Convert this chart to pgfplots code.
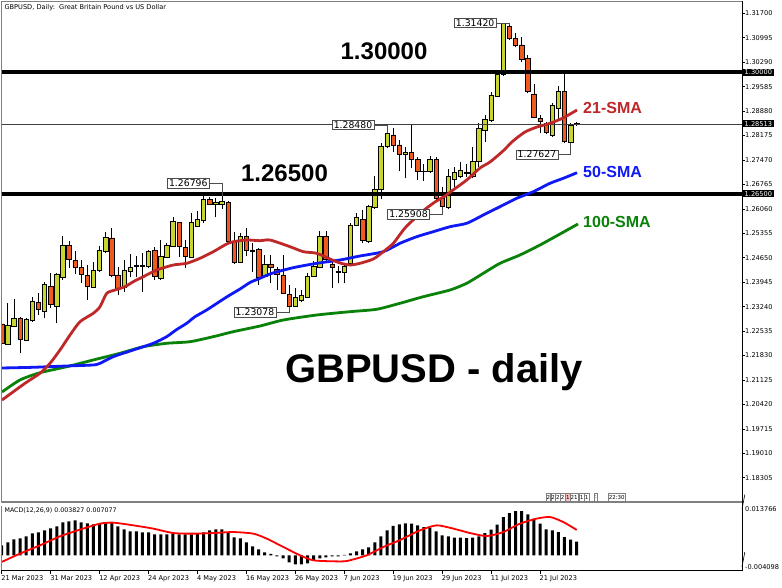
\documentclass[border=0pt]{standalone}
\usepackage{pgfplots}
\usepackage{pgfplotstable}
\pgfplotsset{compat=1.18}
\usepackage{fontspec}
\setmainfont{DejaVu Sans}
\newfontfamily\arialf{Liberation Sans}
\definecolor{bull}{RGB}{200,212,48}
\definecolor{bear}{RGB}{240,90,30}
\definecolor{smared}{RGB}{190,40,40}
\definecolor{smablue}{RGB}{15,25,245}
\definecolor{smagreen}{RGB}{10,130,10}
\newcommand\tk{\fontsize{6.6}{7.5}\selectfont}
\newcommand\lb{\fontsize{9.3}{10}\selectfont}

\pgfplotstableread{
i O H L C
0 1.22740 1.22826 1.22105 1.22183
1 1.22163 1.23337 1.22134 1.22691
2 1.22662 1.23452 1.22639 1.22893
3 1.22893 1.22950 1.21895 1.22299
4 1.22258 1.22913 1.22235 1.22875
5 1.22835 1.23510 1.22806 1.23383
6 1.23366 1.23625 1.22999 1.23164
7 1.23115 1.23960 1.22904 1.23885
8 1.23816 1.24219 1.23193 1.23308
9 1.23259 1.24219 1.22760 1.24182
10 1.24087 1.25278 1.24009 1.25018
11 1.25018 1.25142 1.24346 1.24606
12 1.24577 1.24854 1.24182 1.24375
13 1.24375 1.24586 1.23914 1.24162
14 1.24133 1.24441 1.23432 1.23836
15 1.23798 1.24537 1.23769 1.24277
16 1.24277 1.24989 1.24248 1.24854
17 1.24825 1.25402 1.24796 1.25240
18 1.25220 1.25500 1.24087 1.24144
19 1.24153 1.24392 1.23576 1.23769
20 1.23798 1.24586 1.23671 1.24277
21 1.24248 1.24759 1.24104 1.24375
22 1.24392 1.24701 1.24104 1.24441
23 1.24392 1.24779 1.23671 1.24441
24 1.24392 1.24874 1.24346 1.24845
25 1.24854 1.24952 1.24009 1.24124
26 1.24058 1.25162 1.24009 1.24701
27 1.24663 1.25084 1.24635 1.25010
28 1.24989 1.25834 1.24952 1.25690
29 1.25673 1.25690 1.24663 1.24969
30 1.24952 1.25162 1.24346 1.24701
31 1.24663 1.25950 1.24635 1.25661
32 1.25546 1.26007 1.25529 1.25759
33 1.25719 1.26489 1.25661 1.26336
34 1.26336 1.26411 1.26172 1.26201
35 1.26180 1.26365 1.25817 1.26258
36 1.26192 1.26431 1.26048 1.26279
37 1.26238 1.26296 1.25047 1.25113
38 1.25113 1.25402 1.24470 1.24508
39 1.24508 1.25356 1.24490 1.25278
40 1.25258 1.25500 1.24701 1.24854
41 1.24874 1.25067 1.24248 1.24837
42 1.24894 1.24923 1.23865 1.24087
43 1.24124 1.24730 1.24104 1.24470
44 1.24470 1.24730 1.23914 1.24375
45 1.24317 1.24392 1.23720 1.24182
46 1.24153 1.24730 1.23605 1.23625
47 1.23605 1.23865 1.23221 1.23239
48 1.23239 1.23769 1.23221 1.23510
49 1.23412 1.23720 1.23383 1.23568
50 1.23510 1.24202 1.23481 1.24104
51 1.24104 1.24565 1.24087 1.24392
52 1.24375 1.25431 1.24346 1.25278
53 1.25258 1.25431 1.24528 1.24606
54 1.24470 1.24606 1.23778 1.24375
55 1.24248 1.24413 1.23914 1.24240
56 1.24231 1.24490 1.23914 1.24392
57 1.24490 1.25644 1.24441 1.25595
58 1.25595 1.25932 1.25566 1.25817
59 1.25759 1.26028 1.25084 1.25142
60 1.25113 1.26172 1.25084 1.26123
61 1.26105 1.27008 1.26048 1.26625
62 1.26625 1.27951 1.26336 1.27873
63 1.27853 1.28480 1.27807 1.28240
64 1.28191 1.28384 1.27709 1.27902
65 1.27902 1.28046 1.27161 1.27643
66 1.27643 1.27853 1.26942 1.27700
67 1.27692 1.28479 1.27230 1.27490
68 1.27490 1.27547 1.26893 1.27132
69 1.27132 1.27354 1.26873 1.27152
70 1.27132 1.27585 1.27103 1.27490
71 1.27490 1.27547 1.26316 1.26365
72 1.26365 1.26700 1.25912 1.26123
73 1.26105 1.27201 1.26048 1.26988
74 1.26913 1.27276 1.26700 1.27103
75 1.26988 1.27421 1.26942 1.27181
76 1.27124 1.27354 1.26988 1.27086
77 1.26988 1.27853 1.26942 1.27421
78 1.27421 1.28528 1.27276 1.28384
79 1.28335 1.28767 1.27997 1.28643
80 1.28603 1.29439 1.28574 1.29344
81 1.29315 1.30016 1.29278 1.29941
82 1.29950 1.31420 1.29892 1.31412
83 1.31314 1.31363 1.30930 1.30979
84 1.30979 1.31124 1.30720 1.30786
85 1.30786 1.31026 1.30305 1.30374
86 1.30403 1.30498 1.29393 1.29439
87 1.29373 1.29661 1.28672 1.28701
88 1.28672 1.28767 1.28240 1.28574
89 1.28528 1.28574 1.28219 1.28257
90 1.28191 1.29105 1.28142 1.29056
91 1.28961 1.29604 1.28623 1.29439
92 1.29439 1.30016 1.27951 1.27997
93 1.27969 1.28528 1.27627 1.28479
94 1.28522 1.28574 1.28457 1.28513
}\candles

\pgfplotstableread{
i M
0 0.00279
1 0.00363
2 0.00446
3 0.00474
4 0.00530
5 0.00614
6 0.00642
7 0.00698
8 0.00753
9 0.00809
10 0.00921
11 0.00949
12 0.00977
13 0.00921
14 0.00893
15 0.00865
16 0.00893
17 0.00921
18 0.00921
19 0.00809
20 0.00725
21 0.00670
22 0.00670
23 0.00642
24 0.00642
25 0.00586
26 0.00586
27 0.00586
28 0.00614
29 0.00586
30 0.00586
31 0.00586
32 0.00614
33 0.00642
34 0.00698
35 0.00725
36 0.00725
37 0.00642
38 0.00502
39 0.00474
40 0.00363
41 0.00251
42 0.00167
43 0.00084
44 0.00042
45 -0.00028
46 -0.00084
47 -0.00195
48 -0.00251
49 -0.00251
50 -0.00223
51 -0.00140
52 -0.00084
53 -0.00056
54 -0.00028
55 -0.00028
56 0.00014
57 0.00056
58 0.00112
59 0.00167
60 0.00223
61 0.00363
62 0.00530
63 0.00698
64 0.00823
65 0.00865
66 0.00893
67 0.00884
68 0.00837
69 0.00790
70 0.00773
71 0.00670
72 0.00558
73 0.00530
74 0.00494
75 0.00494
76 0.00483
77 0.00494
78 0.00530
79 0.00622
80 0.00717
81 0.00857
82 0.01069
83 0.01180
84 0.01236
85 0.01236
86 0.01144
87 0.01024
88 0.00884
89 0.00725
90 0.00698
91 0.00650
92 0.00511
93 0.00438
94 0.00383
}\macd

\pgfplotsset{mainpanel/.style={at={(1.4pt,85pt)}, anchor=south west,
  width=740.6pt, height=501pt, scale only axis,
  xmin=-0.05, xmax=121.02, ymin=1.17606, ymax=1.32055}}

\begin{document}
\begin{tikzpicture}
\useasboundingbox (0,0) rectangle (782pt,587pt);
\fill[white] (0,0) rectangle (782pt,587pt);

% ---- wicks
\begin{axis}[mainpanel, hide axis]
\addplot[draw=none, mark=none, error bars/.cd, y dir=plus, y explicit,
  error mark=none, error bar style={draw=black, line width=0.8pt}]
  table[x=i, y=L, y error expr={\thisrow{H}-\thisrow{L}}] {\candles};
\end{axis}

% ---- bodies
\begin{axis}[mainpanel, hide axis, ybar stacked, bar width=4.4pt]
\addplot[draw=none, fill=none] table[x=i, y expr={min(\thisrow{O},\thisrow{C})}] {\candles};
\addplot[fill=bull, draw=black, line width=0.6pt] table[x=i, y expr={max(\thisrow{C}-\thisrow{O},0)}] {\candles};
\addplot[fill=bear, draw=black, line width=0.6pt] table[x=i, y expr={max(\thisrow{O}-\thisrow{C},0)}] {\candles};
\end{axis}

% ---- decorations, averages, levels
\begin{axis}[mainpanel, clip mode=individual, axis line style={draw=none},
  xtick=\empty,
  ytick={1.18305,1.19010,1.19715,1.20420,1.21125,1.21830,1.22535,1.23240,1.23945,1.24650,1.25355,1.26060,1.26765,1.27470,1.28175,1.28880,1.29585,1.30290,1.30995,1.31700},
  ytick pos=right, yticklabel pos=right, tick align=outside, major tick length=2.5pt,
  tick style={black, line width=0.6pt},
  /pgf/number format/assume math mode=true, scaled y ticks=false,
  yticklabel style={anchor=west, font=\tk, inner sep=0.5pt, xshift=0pt,
    /pgf/number format/fixed, /pgf/number format/fixed zerofill, /pgf/number format/precision=5}]
% levels
\addplot[black, line width=4pt] coordinates {(-0.05,1.30000) (121.02,1.30000)};
\addplot[black, line width=4pt] coordinates {(-0.05,1.26500) (121.02,1.26500)};
\addplot[black!75, line width=0.6pt] coordinates {(-0.05,1.28513) (121.02,1.28513)};
% moving averages
\addplot[smagreen, line width=2.8pt, smooth, tension=0.4] coordinates {
(0.05,1.20779) (2.99,1.21125) (6.26,1.21335) (10.63,1.21508) (14.97,1.21702) (19.34,1.21895) (23.15,1.22085) (26.97,1.22183) (30.78,1.22229) (34.59,1.22374) (37.86,1.22518) (42.23,1.22682) (46.04,1.22855) (51.50,1.22999) (56.94,1.23095) (61.30,1.23164) (65.11,1.23337) (68.92,1.23527) (73.29,1.23720) (76.02,1.23914) (78.73,1.24202) (81.46,1.24490) (84.73,1.24730) (88.00,1.25018) (91.27,1.25335) (94.21,1.25624)};
\addplot[smablue, line width=2.8pt, smooth, tension=0.4] coordinates {
(0.05,1.21471) (5.17,1.21491) (10.63,1.21529) (14.97,1.21558) (16.07,1.21606) (18.24,1.21797) (21.51,1.21990) (24.78,1.22183) (26.97,1.22374) (28.49,1.22567) (30.24,1.22760) (31.60,1.22950) (33.51,1.23144) (36.78,1.23519) (38.96,1.23749) (40.59,1.23937) (41.95,1.24038) (43.86,1.24182) (45.50,1.24268) (47.95,1.24375) (51.50,1.24490) (55.30,1.24586) (58.57,1.24701) (62.38,1.24825) (65.11,1.25067) (67.84,1.25257) (70.56,1.25402) (73.29,1.25546) (76.02,1.25644) (78.73,1.25883) (81.46,1.26123) (84.19,1.26365) (86.90,1.26555) (89.64,1.26798) (91.81,1.26942) (94.05,1.27103)};
\addplot[smared, line width=2.8pt, smooth, tension=0.4] coordinates {
(0.05,1.20548) (3.81,1.21030) (6.26,1.21318) (7.90,1.21606) (9.53,1.21990) (11.17,1.22423) (12.80,1.22806) (14.97,1.23048) (16.07,1.23239) (17.17,1.23625) (18.52,1.23720) (20.16,1.23816) (21.51,1.23960) (23.15,1.24104) (25.34,1.24297) (28.05,1.24441) (30.24,1.24490) (32.42,1.24635) (34.59,1.24825) (36.78,1.25047) (37.86,1.25113) (40.05,1.25162) (42.23,1.25142) (43.86,1.25162) (47.13,1.24969) (49.31,1.24825) (51.50,1.24779) (53.67,1.24614) (55.30,1.24499) (56.94,1.24441) (58.57,1.24490) (60.75,1.24614) (62.38,1.24825) (64.02,1.25067) (65.93,1.25508) (68.66,1.25970) (70.83,1.26258) (72.47,1.26431) (73.78,1.26604) (76.02,1.26893) (78.19,1.27239) (79.83,1.27412) (81.95,1.27729) (83.59,1.28018) (85.55,1.28277) (87.51,1.28421) (89.64,1.28528) (91.77,1.28681) (94.05,1.28912)};

% frame
\draw[gray, line width=0.8pt] (rel axis cs:0,0) -- (rel axis cs:0,1) -- (rel axis cs:1,1);
\draw[black, line width=0.8pt] (rel axis cs:1,1) -- (rel axis cs:1,0);
\draw[gray, line width=1.5pt] (rel axis cs:0,0) -- (rel axis cs:1,0);

% text labels
\node[anchor=north west, inner sep=0pt, font=\fontsize{6.6}{7}\selectfont] at (rel axis cs:0,1) [xshift=3pt, yshift=-3pt] {GBPUSD, Daily:\ \ Great Britain Pound vs US Dollar};
\node[font=\arialf\bfseries\fontsize{24}{24}\selectfont, inner sep=0pt] at (axis cs:62.5,1.30613) {1.30000};
\node[font=\arialf\bfseries\fontsize{24}{24}\selectfont, inner sep=0pt] at (axis cs:46.23,1.27080) {1.26500};
\node[font=\arialf\bfseries\fontsize{40}{40}\selectfont, inner sep=0pt] at (axis cs:70.67,1.21356) {GBPUSD - daily};
\node[anchor=west, text=smared, font=\arialf\bfseries\fontsize{16}{16}\selectfont, inner sep=0pt] at (axis cs:95.03,1.28969) {21-SMA};
\node[anchor=west, text=smablue, font=\arialf\bfseries\fontsize{16}{16}\selectfont, inner sep=0pt] at (axis cs:95.03,1.27123) {50-SMA};
\node[anchor=west, text=smagreen, font=\arialf\bfseries\fontsize{16}{16}\selectfont, inner sep=0pt] at (axis cs:95.03,1.25681) {100-SMA};

% price tags
\tikzset{tag/.style={draw=black!70, fill=white, line width=0.5pt, inner xsep=1.8pt, inner ysep=1.2pt, font=\lb}}
\node[tag] (t1) at (axis cs:30.5,1.26796) {1.26796};
\draw[black!70, line width=0.6pt] (t1.east) -| (axis cs:36,1.26431);
\node[tag] (t2) at (axis cs:41.4,1.23078) {1.23078};
\draw[black!70, line width=0.6pt] (t2.east) -| (axis cs:47,1.23221);
\node[tag] (t3) at (axis cs:57.43,1.28480) {1.28480};
\draw[black!70, line width=0.6pt] (t3.east) -| (axis cs:63,1.28240);
\node[tag] (t4) at (axis cs:66.5,1.25908) {1.25908};
\draw[black!70, line width=0.6pt] (t4.east) -| (axis cs:72,1.26123);
\node[tag] (t5) at (axis cs:77.4,1.31420) {1.31420};
\draw[black!70, line width=0.6pt] (t5.east) -| (axis cs:83,1.31363);
\node[tag] (t6) at (axis cs:87.5,1.27627) {1.27627};
\draw[black!70, line width=0.6pt] (t6.east) -| (axis cs:93,1.27969);

% right-side highlighted prices
\tikzset{hl/.style={anchor=west, fill=black, text=white, inner xsep=1.5pt, inner ysep=1pt, font=\tk}}
\node[hl] at (axis cs:121.02,1.30000) [xshift=1pt] {1.30000};
\node[hl] at (axis cs:121.02,1.28513) [xshift=1pt] {1.28513};
\node[hl] at (axis cs:121.02,1.26500) [xshift=1pt] {1.26500};
\end{axis}

% ---- MACD panel
\begin{axis}[at={(1.4pt,17pt)}, anchor=south west, width=740.6pt, height=64pt, scale only axis,
  xmin=-0.05, xmax=121.02, ymin=-0.004098, ymax=0.013766,
  clip mode=individual, axis line style={draw=none},
  ytick=\empty,
  xtick={0,8,16,24,32,40,48,56,64,72,80,88},
  xticklabels={21 Mar 2023,31 Mar 2023,12 Apr 2023,24 Apr 2023,4 May 2023,16 May 2023,26 May 2023,7 Jun 2023,19 Jun 2023,29 Jun 2023,11 Jul 2023,21 Jul 2023},
  xtick pos=left, tick align=outside, major tick length=3.5pt,
  tick style={black, line width=0.6pt},
  xticklabel style={anchor=north west, inner sep=0pt, xshift=-0.5pt, yshift=-2pt, font=\tk}]
\addplot[ybar, bar width=3pt, fill=black, draw=none] table[x=i, y=M] {\macd};
\addplot[red, line width=1.8pt, smooth, tension=0.4] coordinates {
(0.05,-0.00181) (2.99,0.00047) (6.26,0.00279) (9.53,0.00530) (12.80,0.00717) (16.07,0.00884) (18.24,0.00912) (21.51,0.00837) (24.78,0.00745) (28.05,0.00622) (31.32,0.00605) (34.59,0.00622) (37.86,0.00650) (41.13,0.00605) (43.32,0.00466) (46.04,0.00232) (48.77,0) (50.94,-0.00140) (54.21,-0.00167) (56.40,-0.00159) (59.67,0) (62.38,0.00232) (65.11,0.00427) (68.38,0.00698) (71.11,0.00837) (73.83,0.00745) (76.56,0.00622) (79.29,0.00538) (82.01,0.00650) (84.73,0.00884) (87.46,0.01024) (89.64,0.01069) (91.81,0.00929) (94.0,0.00708)};
\draw[gray, line width=0.8pt] (rel axis cs:0,0) -- (rel axis cs:0,1);
\draw[black, line width=0.8pt] (rel axis cs:1,1.08) -- (rel axis cs:1,0) -- (rel axis cs:0,0);
\node[anchor=north west, inner sep=0pt, font=\fontsize{6.3}{7}\selectfont] at (rel axis cs:0,1) [xshift=3pt, yshift=-2pt] {MACD(12,26,9) 0.003827 0.007077};
\draw[black, line width=0.6pt] (rel axis cs:1,0.95) -- ++(2.5pt,0);
\node[anchor=west, inner sep=0.5pt, font=\tk] at (rel axis cs:1,0.95) [xshift=2.5pt] {0.013766};
\draw[black, line width=0.6pt] (rel axis cs:1,0.05) -- ++(2.5pt,0);
\node[anchor=west, inner sep=0.5pt, font=\tk] at (rel axis cs:1,0.05) [xshift=2.5pt] {-0.004098};
\end{axis}

% ---- small object buttons
\tikzset{btn/.style={draw=gray, fill=white, inner sep=0.6pt, minimum height=8pt, font=\fontsize{5.5}{6}\selectfont, anchor=center}}
\node[btn] at (548.3pt,90pt) {2};
\node[btn] at (553.1pt,90pt) {2};
\node[btn] at (557.9pt,90pt) {2};
\node[btn] at (562.7pt,90pt) {2};
\node[btn, fill=red!25] at (567.8pt,90pt) {1};
\node[btn] at (574pt,90pt) {21};
\node[btn] at (581.7pt,90pt) {1};
\node[btn] at (586.7pt,90pt) {1};
\node[btn] at (595.3pt,90pt) {:};
\node[btn] at (616.7pt,90pt) {22:30};
\end{tikzpicture}
\end{document}
